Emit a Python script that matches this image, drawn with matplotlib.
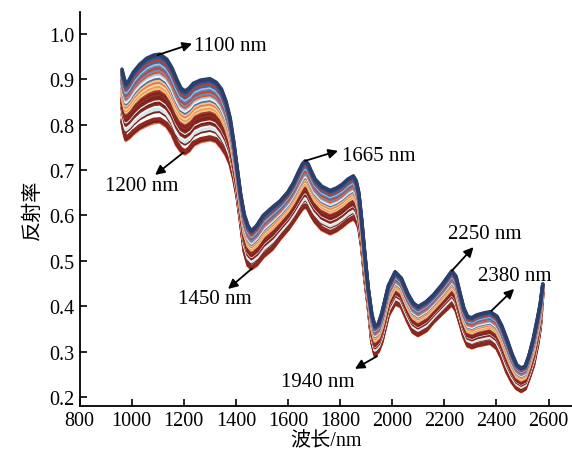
import matplotlib
matplotlib.use("Agg")
import matplotlib.pyplot as plt
import numpy as np

# wavelength grid (nm) and the upper / lower envelope
wavelength = [963, 970, 978, 990, 1006, 1030, 1058, 1085, 1109, 1135, 1155, 1173, 1190, 1205,
              1220, 1237, 1265, 1301, 1325, 1345, 1362, 1378, 1392, 1405, 1418, 1432, 1447,
              1460, 1480, 1505, 1540, 1570, 1600, 1621, 1642, 1656, 1666, 1677, 1690, 1704,
              1730, 1762, 1785, 1807, 1830, 1851, 1862, 1872, 1883, 1895, 1908, 1922, 1934,
              1947, 1960, 1985, 2011, 2035, 2060, 2080, 2099, 2130, 2158, 2190, 2229, 2245,
              2260, 2275, 2290, 2306, 2325, 2350, 2376, 2402, 2420, 2440, 2460, 2478, 2495,
              2510, 2525, 2542, 2558, 2568, 2578]
top = [0.922, 0.905, 0.889, 0.898, 0.915, 0.932, 0.946, 0.953, 0.955, 0.944, 0.925, 0.900, 0.880,
       0.874, 0.880, 0.891, 0.898, 0.901, 0.893, 0.878, 0.852, 0.815, 0.762, 0.705, 0.648, 0.603,
       0.577, 0.566, 0.578, 0.600, 0.618, 0.632, 0.652, 0.672, 0.698, 0.714, 0.720, 0.714, 0.697,
       0.680, 0.664, 0.655, 0.660, 0.668, 0.680, 0.687, 0.676, 0.650, 0.590, 0.515, 0.440, 0.382,
       0.356, 0.362, 0.385, 0.445, 0.476, 0.462, 0.428, 0.408, 0.399, 0.410, 0.425, 0.447, 0.478,
       0.466, 0.430, 0.396, 0.377, 0.375, 0.381, 0.385, 0.388, 0.378, 0.358, 0.328, 0.295, 0.271,
       0.264, 0.268, 0.292, 0.330, 0.375, 0.405, 0.449]
bottom = [0.805, 0.782, 0.765, 0.770, 0.779, 0.790, 0.798, 0.804, 0.805, 0.795, 0.778, 0.754, 0.740,
          0.735, 0.741, 0.754, 0.762, 0.766, 0.762, 0.748, 0.733, 0.712, 0.680, 0.640, 0.585, 0.520,
          0.489, 0.482, 0.490, 0.508, 0.525, 0.548, 0.568, 0.585, 0.603, 0.614, 0.618, 0.613, 0.598,
          0.585, 0.568, 0.559, 0.565, 0.574, 0.585, 0.592, 0.585, 0.572, 0.530, 0.460, 0.400, 0.320,
          0.291, 0.300, 0.320, 0.379, 0.405, 0.398, 0.365, 0.342, 0.335, 0.345, 0.364, 0.382, 0.403,
          0.390, 0.362, 0.332, 0.312, 0.308, 0.312, 0.315, 0.318, 0.306, 0.285, 0.254, 0.232, 0.218,
          0.212, 0.217, 0.240, 0.269, 0.315, 0.352, 0.430]

# relative position of each sample spectrum between the envelopes, and its colour
sample_pos = [0.00, 0.02, 0.05, 0.16, 0.19, 0.21, 0.24, 0.27, 0.30, 0.33, 0.35, 0.38, 0.41, 0.44,
              0.47, 0.50, 0.53, 0.56, 0.59, 0.62, 0.65, 0.68, 0.71, 0.74, 0.77, 0.80, 0.83, 0.86,
              0.89, 0.92, 0.95, 0.98, 1.00]
sample_colors = ['#e8734f', '#7b1f1c', '#8c2a22', '#7b221f', '#d5ebee', '#cfe6ea', '#f7f7f7',
                 '#8b2b24', '#7a1f1c', '#fafafa', '#862821', '#7b211e', '#923026', '#7d2420',
                 '#a8372a', '#f2c98a', '#ee9a5e', '#f4d9a0', '#e27a52', '#f0c888', '#4f6fa5',
                 '#f5f5f5', '#a9c8dd', '#d9573b', '#6d8fc0', '#c9432f', '#5a7db2', '#9dbfd8',
                 '#44659c', '#c0402e', '#3c5a93', '#2f4677', '#2b3f6c']

# annotations: label, point on curve, arrow head, text position
notes = [("1100 nm", (1100, 0.953), (1232, 0.978), (1240, 0.973), "left"),
         ("1200 nm", (1198, 0.738), (1090, 0.689), (1040, 0.665), "center"),
         ("1665 nm", (1666, 0.720), (1792, 0.742), (1808, 0.731), "left"),
         ("1450 nm", (1462, 0.483), (1370, 0.438), (1320, 0.416), "center"),
         ("1940 nm", (1942, 0.290), (1857, 0.262), (1716, 0.235), "center"),
         ("2250 nm", (2229, 0.478), (2312, 0.530), (2354, 0.559), "center"),
         ("2380 nm", (2381, 0.390), (2468, 0.438), (2471, 0.467), "center")]

serif = ['Liberation Serif', 'DejaVu Serif']
cjk = ['Liberation Serif', 'Noto Sans CJK SC']
plt.rcParams['font.family'] = serif

fig = plt.figure(figsize=(5.72, 4.60), dpi=100)
ax = fig.add_axes([0.139, 0.115, 0.861, 0.857])

wl = np.array(wavelength)
lo = np.array(bottom)
hi = np.array(top)
for f, c in zip(sample_pos, sample_colors):
    ax.plot(wl, lo + f * (hi - lo), color=c, lw=2.5, solid_capstyle='round')

for label, tail, head, txt, ha in notes:
    ax.annotate('', xy=head, xytext=tail,
                arrowprops=dict(arrowstyle='-|>', color='black', lw=1.3,
                                mutation_scale=14, shrinkA=0, shrinkB=0))
    ax.text(txt[0], txt[1], label, ha=ha, va='center', fontsize=15)

ax.set_xlim(800, 2690)
ax.set_ylim(0.18, 1.048)
ax.set_xticks(np.arange(800, 2601, 200))
ax.set_yticks(np.arange(0.2, 1.01, 0.1))
ax.yaxis.set_major_formatter(matplotlib.ticker.FormatStrFormatter('%.1f'))
ax.tick_params(direction='in', labelsize=14.5, length=5, width=1.2)
for s in ['top', 'right']:
    ax.spines[s].set_visible(False)
for s in ['left', 'bottom']:
    ax.spines[s].set_linewidth(1.3)

ax.set_xlabel('波长/nm', fontsize=14.5, family=cjk, labelpad=1)
ax.set_ylabel('反射率', fontsize=14.5, family=cjk, labelpad=5)

fig.savefig('out.png', dpi=100)
